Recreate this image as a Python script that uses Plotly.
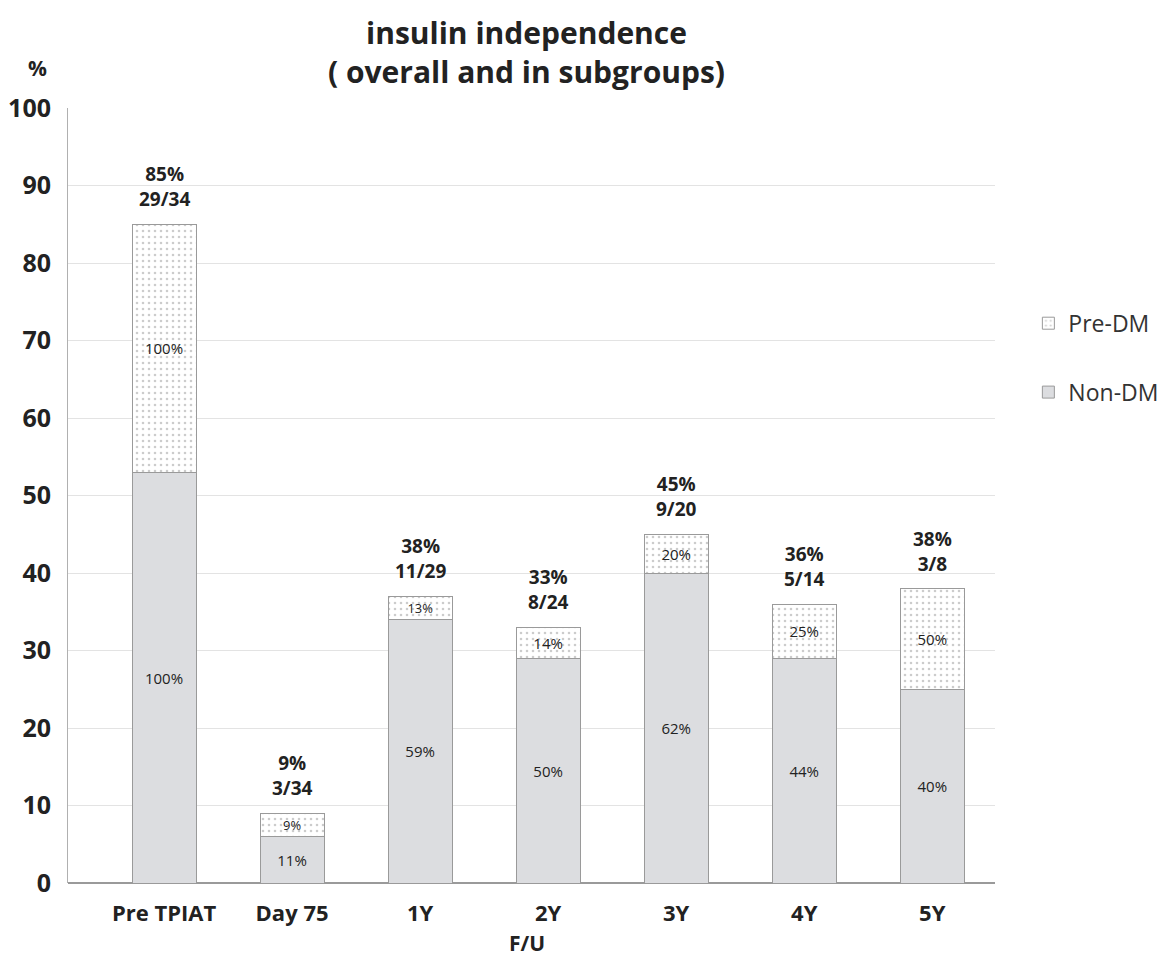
import plotly.graph_objects as go

categories = ["Pre TPIAT", "Day 75", "1Y", "2Y", "3Y", "4Y", "5Y"]
non_dm = [53, 6, 34, 29, 40, 29, 25]
pre_dm = [32, 3, 3, 4, 5, 7, 13]
non_dm_labels = ["100%", "11%", "59%", "50%", "62%", "44%", "40%"]
pre_dm_labels = ["100%", "9%", "13%", "14%", "20%", "25%", "50%"]
overall_pct = ["85%", "9%", "38%", "33%", "45%", "36%", "38%"]
overall_n = ["29/34", "3/34", "11/29", "8/24", "9/20", "5/14", "3/8"]
y_ticks = [0, 10, 20, 30, 40, 50, 60, 70, 80, 90, 100]

FONT = "'Open Sans', 'Noto Sans', sans-serif"
TXT = "#222222"

fig = go.Figure()
fig.add_trace(go.Bar(
    x=categories, y=non_dm, name="Non-DM", width=0.5,
    marker=dict(color="#dcdde0", line=dict(color="#9a9a9a", width=1)),
    text=non_dm_labels, textposition="inside", insidetextanchor="middle",
    textfont=dict(size=15, color=TXT, family=FONT), textangle=0,
    legendgroup="non", legendrank=2,
))
fig.add_trace(go.Bar(
    x=categories, y=pre_dm, name="Pre-DM", width=0.5,
    marker=dict(color="white", line=dict(color="#9a9a9a", width=1),
                pattern=dict(shape=".", fgcolor="#9a9a9a", bgcolor="white",
                             size=6, solidity=0.15)),
    text=pre_dm_labels, textposition="inside", insidetextanchor="middle",
    textfont=dict(size=15, color=TXT, family=FONT), textangle=0,
    legendgroup="pre", legendrank=1,
))

annotations = []
for c, a, b, p, n in zip(categories, non_dm, pre_dm, overall_pct, overall_n):
    annotations.append(dict(
        x=c, y=a + b, xref="x", yref="y", text=f"<b>{p}<br>{n}</b>",
        showarrow=False, xanchor="center", yanchor="bottom", yshift=10,
        font=dict(size=19, color=TXT, family=FONT), align="center",
    ))
annotations.append(dict(
    x=-0.0334, y=1.0516, xref="paper", yref="paper", text="<b>%</b>",
    showarrow=False, xanchor="center", yanchor="middle",
    font=dict(size=21, color=TXT, family=FONT),
))
annotations.append(dict(
    x=0.495, y=-0.0774, xref="paper", yref="paper", text="<b>F/U</b>",
    showarrow=False, xanchor="center", yanchor="middle",
    font=dict(size=21, color=TXT, family=FONT),
))

fig.update_layout(
    barmode="stack",
    width=1160, height=948,
    margin=dict(l=60, r=173, t=100, b=73, autoexpand=False),
    paper_bgcolor="white", plot_bgcolor="white",
    title=dict(text="<b>insulin independence<br>( overall and in subgroups)</b>",
               x=0.447, xanchor="center", y=0.9625, yanchor="middle",
               font=dict(size=30, color=TXT, family=FONT)),
    legend=dict(x=1.036, y=0.75, xanchor="left", yanchor="top",
                font=dict(size=23, color="#333333", family=FONT),
                traceorder="grouped", tracegroupgap=36,
                bgcolor="rgba(0,0,0,0)"),
    annotations=annotations,
    showlegend=True,
)

fig.update_xaxes(
    type="category", range=[-0.75, 6.49], automargin=False,
    showline=False, showgrid=False, ticks="",
    tickfont=dict(size=22, color=TXT, family=FONT, weight="bold"),
    ticklabelstandoff=15,
)
fig.update_yaxes(
    range=[0, 100], tickvals=y_ticks, automargin=False,
    showgrid=True, gridcolor="#e3e3e3", gridwidth=1,
    showline=True, linecolor="#b0b0b0", linewidth=1,
    zeroline=True, zerolinecolor="#9a9a9a", zerolinewidth=1.5,
    ticks="",
    tickfont=dict(size=25, color=TXT, family=FONT, weight="bold"),
    ticklabelstandoff=11,
)

fig.write_html("out.html")
